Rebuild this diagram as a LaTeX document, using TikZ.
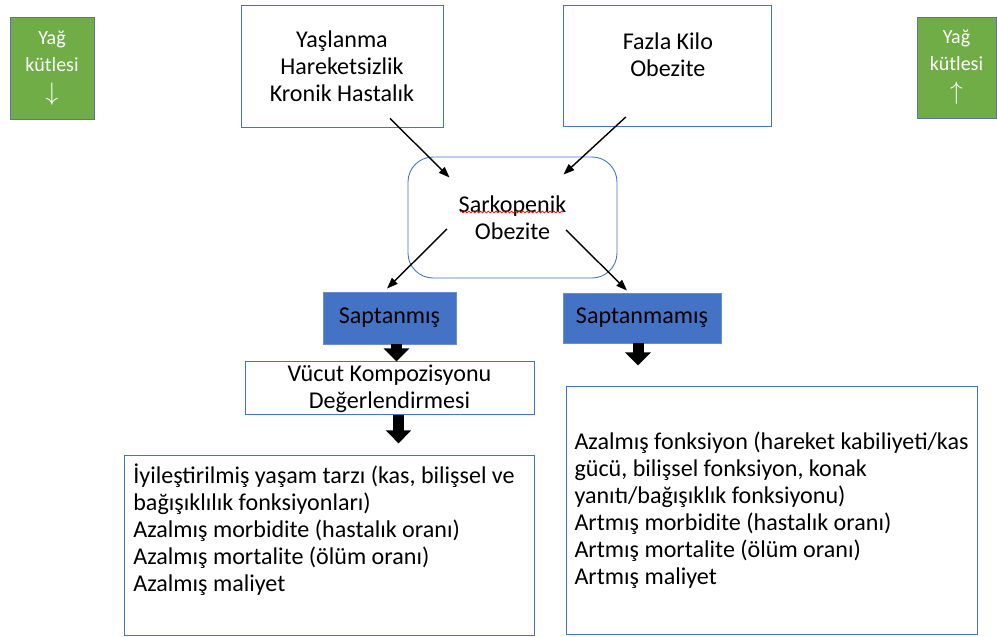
\documentclass[tikz,border=0pt]{standalone}
\usepackage{fontspec}
\setmainfont{Carlito}
\usepackage{tikz}
\usetikzlibrary{arrows.meta,positioning,decorations.pathmorphing}
\definecolor{SarkBlue}{HTML}{4472C4}
\definecolor{SarkDark}{HTML}{2F528F}
\definecolor{SarkGreen}{HTML}{70AD47}
\newcommand{\yagok}[1]{{\fontsize{15}{15}\selectfont$#1$}}
\tikzset{
  box/.style={draw=SarkBlue, line width=0.5pt, align=center, fill=white, inner sep=0pt},
  fatbox/.style={box, fill=SarkGreen, draw=SarkDark!80, text=white,
                 font=\fontsize{11.4}{15.4}\selectfont},
  found/.style={box, fill=SarkBlue, draw=SarkBlue!80!white},
  txt/.style={align=left, inner sep=0pt},
  flow/.style={-{Triangle[length=2.2mm, width=1.6mm]}, line width=0.8pt},
  blok/.style={-{Triangle[length=2.6mm, width=5mm]}, line width=2.2mm},
  spell/.style={draw=red, line width=0.4pt, decorate,
                decoration={snake, amplitude=0.5pt, segment length=2.2pt}}
}
\begin{document}
\begin{tikzpicture}[font=\fontsize{13.7}{15.4}\selectfont]
  \useasboundingbox (0,0) rectangle (19.94,-12.74);
  % yag kutlesi
  \node[fatbox, minimum width=16.8mm, minimum height=20.4mm] (yagaz) at (1.04,-1.36) {Yağ\\kütlesi\\[1pt]\yagok{\downarrow}};
  \node[fatbox, minimum width=15.8mm, minimum height=20.2mm] (yagcok) at (19.13,-1.35) {Yağ\\kütlesi\\[1pt]\yagok{\uparrow}};
  % nedenler
  \node[box, minimum width=40.4mm, minimum height=24.4mm] (yas) at (6.84,-1.32) {Yaşlanma\\Hareketsizlik\\Kronik Hastalık};
  \node[box, minimum width=41.6mm, minimum height=24.2mm, right=24mm of yas] (kilo) {};
  \node[txt, align=center] (kilot) at ([yshift=2.3mm]kilo.center) {Fazla Kilo\\Obezite};
  \node[box, rounded corners=5mm, minimum width=41.8mm, minimum height=24.2mm] (sark) at (10.25,-4.35) {Sarkopenik\\Obezite};
  \draw[spell] ([shift={(-1.05,0.11)}]sark.center) -- ([shift={(1.01,0.11)}]sark.center);
  % tani
  \node[found, minimum width=26.6mm, minimum height=10.4mm] (sap) at (7.79,-6.36) {Saptanmış};
  \node[found, minimum width=31.6mm, minimum height=10mm] (sapm) at (12.84,-6.36) {Saptanmamış};
  \node[box, minimum width=57.8mm, minimum height=10.6mm, below=3.4mm of sap] (vucut) {Vücut Kompozisyonu\\Değerlendirmesi};
  % sonuclar
  \node[box, minimum width=82mm, minimum height=36mm] (sonuc1) at (6.58,-10.9) {};
  \node[txt, anchor=west] (sonuc1t) at (2.66,-10.6) {İyileştirilmiş yaşam tarzı (kas, bilişsel ve\\bağışıklılık fonksiyonları)\\Azalmış morbidite (hastalık oranı)\\Azalmış mortalite (ölüm oranı)\\Azalmış maliyet};
  \node[box, align=left, minimum width=82.2mm, minimum height=49.6mm] (sonuc2) at (15.43,-10.2) {Azalmış fonksiyon (hareket kabiliyeti/kas\\gücü, bilişsel fonksiyon, konak\\yanıtı/bağışıklık fonksiyonu)\\Artmış morbidite (hastalık oranı)\\Artmış mortalite (ölüm oranı)\\Artmış maliyet};
  % oklar
  \draw[flow] ([shift={(0.96,0.18)}]yas.south) -- ([shift={(0.84,-0.42)}]sark.north west);
  \draw[flow] ([shift={(-0.84,0.2)}]kilo.south) -- ([shift={(-1.08,-0.36)}]sark.north east);
  \draw[flow] ([shift={(-1.31,-0.23)}]sark.center) -- ([shift={(-0.05,0.06)}]sap.north);
  \draw[flow] ([shift={(1.07,-0.25)}]sark.center) -- ([shift={(-0.3,0.04)}]sapm.north);
  \coordinate (sapmuc) at ([xshift=-0.8mm, yshift=-4.4mm]sapm.south);
  \coordinate (vucuc) at ([xshift=1.8mm, yshift=-5.6mm]vucut.south);
  \draw[blok] ([xshift=1.4mm]sap.south) -- ([xshift=1.4mm]vucut.north);
  \draw[blok] ([xshift=-0.8mm]sapm.south) -- (sapmuc);
  \draw[blok] ([xshift=1.8mm]vucut.south) -- (vucuc);
\end{tikzpicture}
\end{document}
